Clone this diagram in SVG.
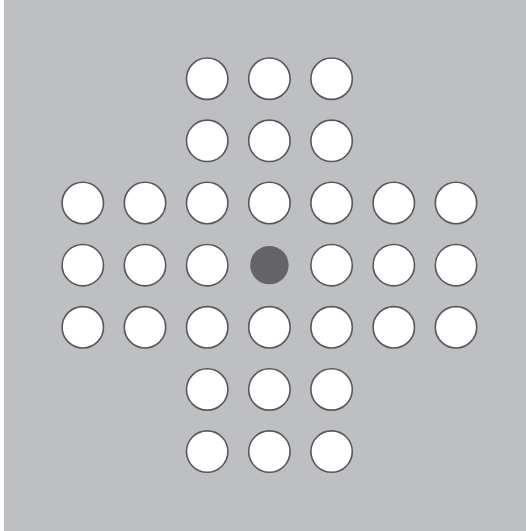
<svg xmlns="http://www.w3.org/2000/svg" width="526" height="531" viewBox="0 0 526 531">
<style>
.h{fill:#fff;stroke:#58585a;stroke-width:1.6}
.e{fill:#646466}
</style>
<rect x="0" y="0" width="526" height="531" fill="#fff"/>
<rect x="4" y="0" width="522" height="531" fill="#bebfc3"/>
<g id="board">
<g id="r0"><circle class="h" cx="207.2" cy="78.7" r="20.7"/><circle class="h" cx="269.4" cy="78.7" r="20.7"/><circle class="h" cx="331.6" cy="78.7" r="20.7"/></g>
<g id="r1"><circle class="h" cx="207.2" cy="140.85" r="20.7"/><circle class="h" cx="269.4" cy="140.85" r="20.7"/><circle class="h" cx="331.6" cy="140.85" r="20.7"/></g>
<g id="r2"><circle class="h" cx="82.8" cy="203" r="20.7"/><circle class="h" cx="145" cy="203" r="20.7"/><circle class="h" cx="207.2" cy="203" r="20.7"/><circle class="h" cx="269.4" cy="203" r="20.7"/><circle class="h" cx="331.6" cy="203" r="20.7"/><circle class="h" cx="393.8" cy="203" r="20.7"/><circle class="h" cx="456" cy="203" r="20.7"/></g>
<g id="r3"><circle class="h" cx="82.8" cy="265.15" r="20.7"/><circle class="h" cx="145" cy="265.15" r="20.7"/><circle class="h" cx="207.2" cy="265.15" r="20.7"/><circle class="e" cx="269.4" cy="265.15" r="19.2"/><circle class="h" cx="331.6" cy="265.15" r="20.7"/><circle class="h" cx="393.8" cy="265.15" r="20.7"/><circle class="h" cx="456" cy="265.15" r="20.7"/></g>
<g id="r4"><circle class="h" cx="82.8" cy="327.3" r="20.7"/><circle class="h" cx="145" cy="327.3" r="20.7"/><circle class="h" cx="207.2" cy="327.3" r="20.7"/><circle class="h" cx="269.4" cy="327.3" r="20.7"/><circle class="h" cx="331.6" cy="327.3" r="20.7"/><circle class="h" cx="393.8" cy="327.3" r="20.7"/><circle class="h" cx="456" cy="327.3" r="20.7"/></g>
<g id="r5"><circle class="h" cx="207.2" cy="389.45" r="20.7"/><circle class="h" cx="269.4" cy="389.45" r="20.7"/><circle class="h" cx="331.6" cy="389.45" r="20.7"/></g>
<g id="r6"><circle class="h" cx="207.2" cy="451.6" r="20.7"/><circle class="h" cx="269.4" cy="451.6" r="20.7"/><circle class="h" cx="331.6" cy="451.6" r="20.7"/></g>
</g>
</svg>
